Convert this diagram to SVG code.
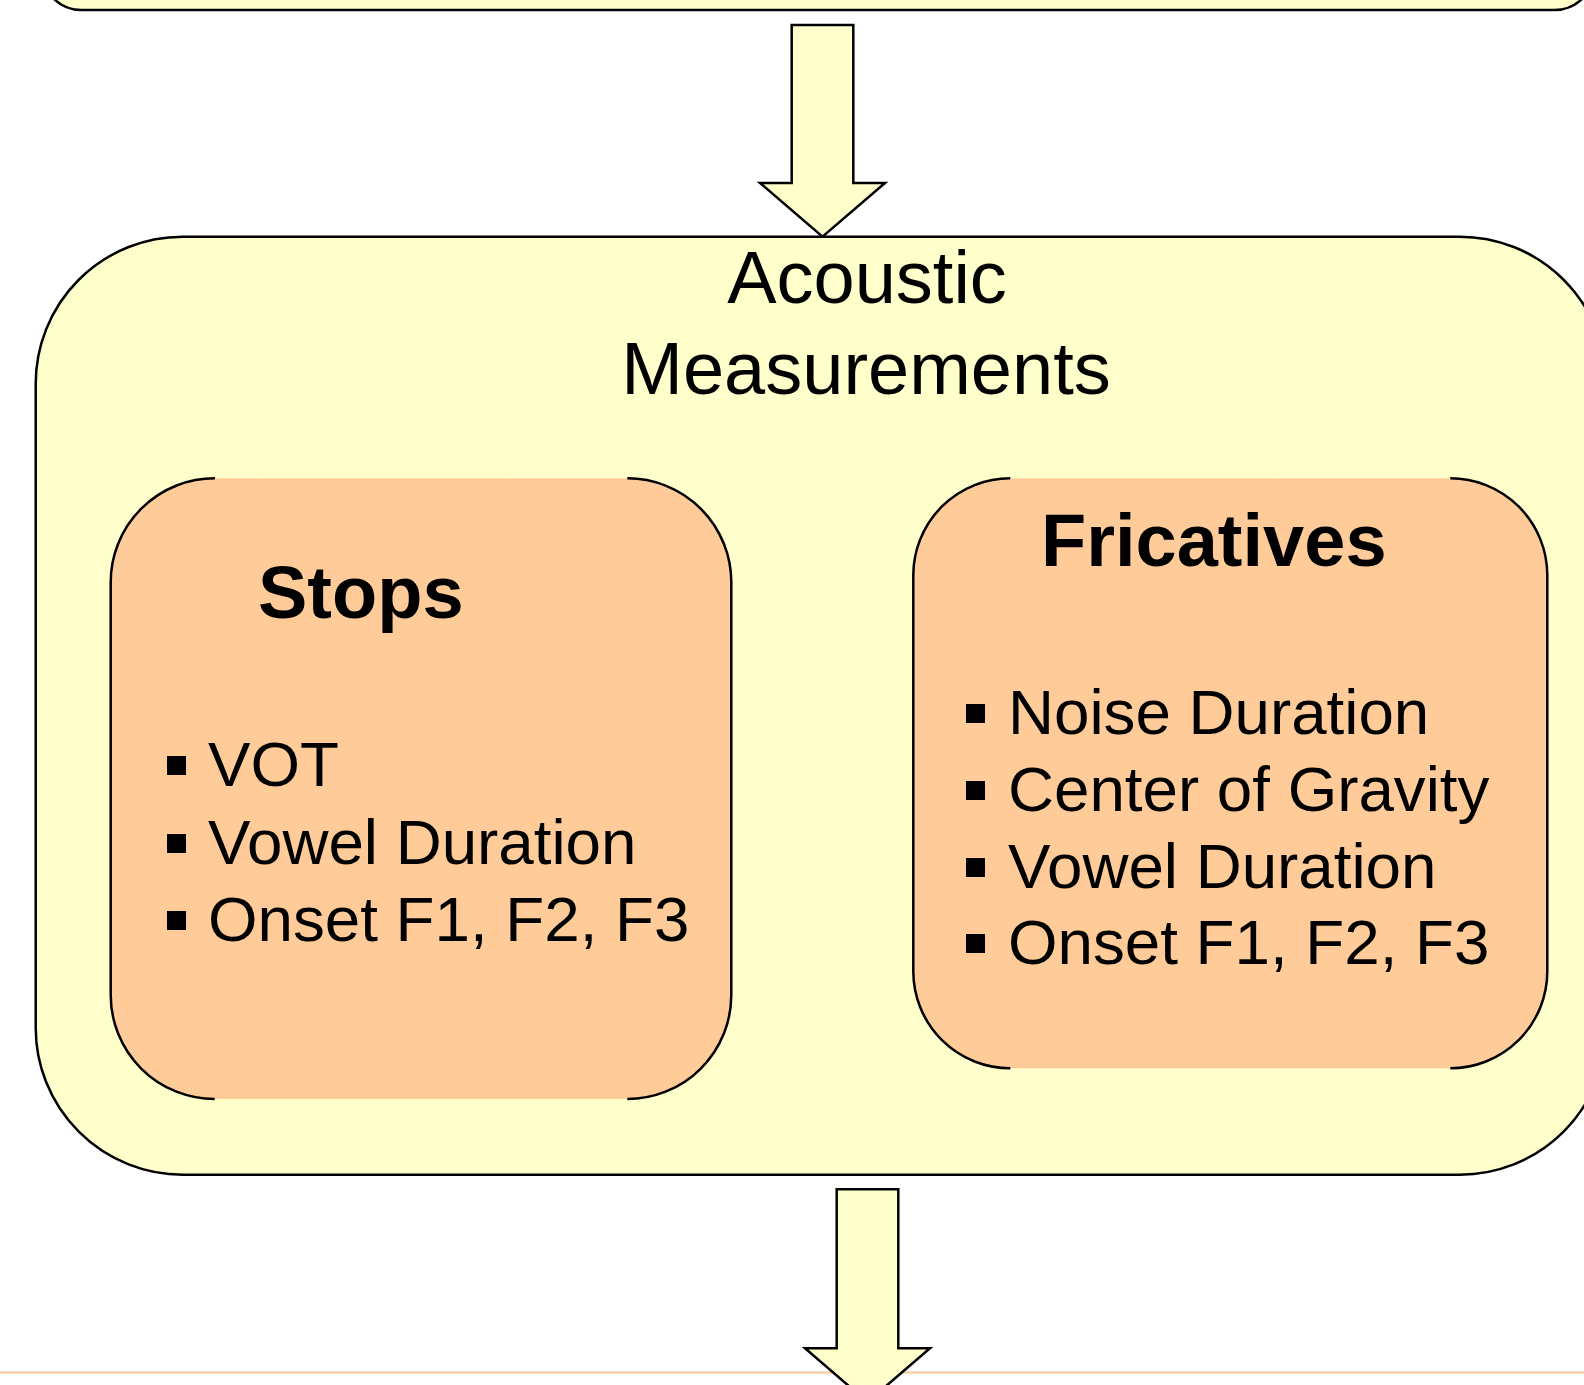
<svg xmlns="http://www.w3.org/2000/svg" width="1584" height="1385" viewBox="0 0 1584 1385">
<style>
.yel{fill:#FFFFCC;stroke:#000;stroke-width:2.5}
.org{fill:#FFCC99;stroke:none}
.edge{fill:none;stroke:#000;stroke-width:2.5}
.arrow{fill:#FFFFCC;stroke:#000;stroke-width:2.5;stroke-linejoin:miter}
.t{font-family:"Liberation Sans",Arial,sans-serif;fill:#000}
.title{font-size:74px}
.head{font-size:74px;font-weight:bold}
.item{font-size:63.7px}
.bul{fill:#000}
</style>
<rect width="1584" height="1385" fill="#fff"/>
<g id="top-box">
<rect class="yel" x="41.5" y="-200" width="1553" height="210" rx="40" ry="40"/>
</g>
<line x1="0" y1="1372.5" x2="1584" y2="1372.5" stroke="#F5CFA8" stroke-width="2.5"/>
<g id="connectors">
<polygon class="arrow" points="791.7,25 853.3,25 853.3,183 885,183 822.5,236.7 760,183 791.7,183"/>
<polygon class="arrow" points="836.7,1189.3 898.3,1189.3 898.3,1348.3 930,1348.3 867.5,1402 805,1348.3 836.7,1348.3"/>
</g>
<g id="acoustic">
<rect class="yel" x="35.7" y="236.7" width="1571" height="938" rx="147" ry="147"/>
<text class="t title" x="867" y="303" text-anchor="middle">Acoustic</text>
<text class="t title" x="866" y="394" text-anchor="middle">Measurements</text>
</g>
<g id="stops">
<rect class="org" x="110.7" y="478.3" width="620.6" height="620.7" rx="104" ry="104"/>
<path class="edge" d="M215,478.3 A104,104 0 0 0 110.7,582.3 L110.7,995 A104,104 0 0 0 214.7,1099"/>
<path class="edge" d="M627.3,478.3 A104,104 0 0 1 731.3,582.3 L731.3,995 A104,104 0 0 1 627.3,1099"/>
<text class="t head" x="258" y="618">Stops</text>
<rect class="bul" x="167" y="756" width="19" height="19"/>
<text class="t item" x="208" y="786">VOT</text>
<rect class="bul" x="167" y="834" width="19" height="19"/>
<text class="t item" x="208" y="864">Vowel Duration</text>
<rect class="bul" x="167" y="911" width="19" height="19"/>
<text class="t item" x="208" y="941">Onset F1, F2, F3</text>
</g>
<g id="fricatives">
<rect class="org" x="913.3" y="478.3" width="634" height="590" rx="97" ry="97"/>
<path class="edge" d="M1010.3,478.3 A97,97 0 0 0 913.3,575.3 L913.3,971.3 A97,97 0 0 0 1010.3,1068.3"/>
<path class="edge" d="M1450.3,478.3 A97,97 0 0 1 1547.3,575.3 L1547.3,971.3 A97,97 0 0 1 1450.3,1068.3"/>
<text class="t head" x="1041" y="566">Fricatives</text>
<rect class="bul" x="966" y="704" width="19" height="19"/>
<text class="t item" x="1008" y="734">Noise Duration</text>
<rect class="bul" x="966" y="781" width="19" height="19"/>
<text class="t item" x="1008" y="811">Center of Gravity</text>
<rect class="bul" x="966" y="858" width="19" height="19"/>
<text class="t item" x="1008" y="888">Vowel Duration</text>
<rect class="bul" x="966" y="934" width="19" height="19"/>
<text class="t item" x="1008" y="964">Onset F1, F2, F3</text>
</g>
</svg>
